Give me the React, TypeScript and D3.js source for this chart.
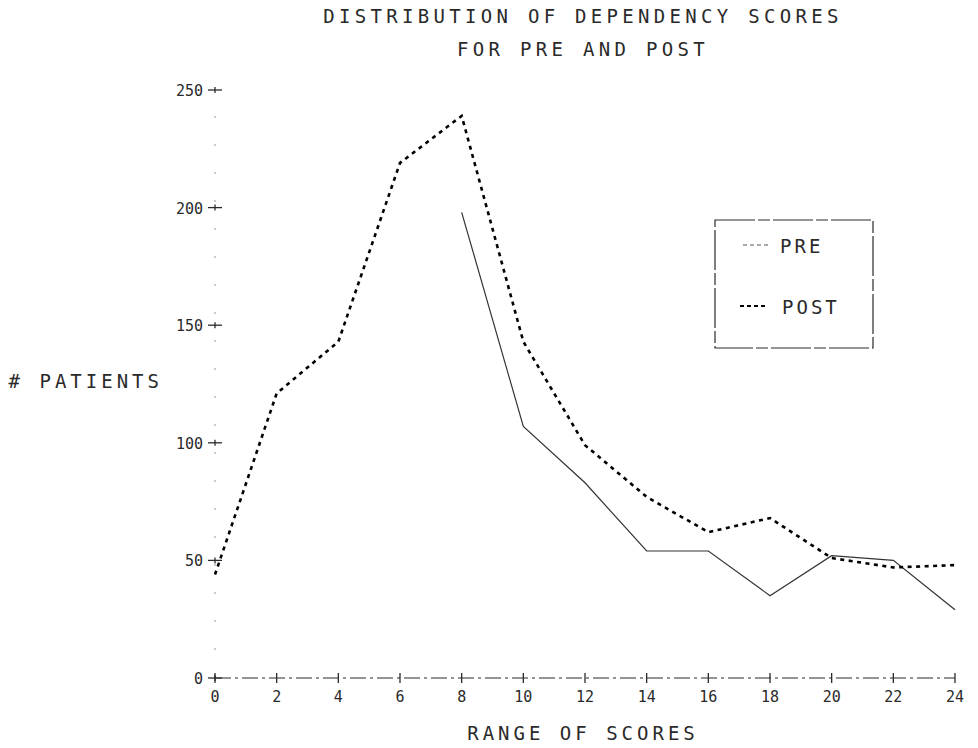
import React from "react";
import * as d3 from "d3";

const scores = [0, 2, 4, 6, 8, 10, 12, 14, 16, 18, 20, 22, 24];
const postValues = [44, 121, 143, 219, 239, 143, 99, 77, 62, 68, 51, 47, 48];
const preScores = [8, 10, 12, 14, 16, 18, 20, 22, 24];
const preValues = [198, 107, 83, 54, 54, 35, 52, 50, 29];
const yTicks = [0, 50, 100, 150, 200, 250];
const titleLines = ["DISTRIBUTION OF DEPENDENCY SCORES", "FOR PRE AND POST"];
const xLabel = "RANGE OF SCORES";
const yLabel = "# PATIENTS";
const legendItems = ["PRE", "POST"];

const W = 978;
const H = 748;
const FONT = "'DejaVu Sans Mono', 'Liberation Mono', monospace";
const INK = "#2a2a2a";

export default function App() {
  const x = d3.scaleLinear().domain([0, 24]).range([215, 955]);
  const y = d3.scaleLinear().domain([0, 250]).range([678, 90]);

  const post = scores.map((s, i) => [s, postValues[i]] as [number, number]);
  const pre = preScores.map((s, i) => [s, preValues[i]] as [number, number]);
  const line = d3
    .line<[number, number]>()
    .x((d) => x(d[0]))
    .y((d) => y(d[1]));

  const cx = 583;

  return (
    <svg
      width={W}
      height={H}
      viewBox={`0 0 ${W} ${H}`}
      style={{ position: "absolute", left: 0, top: 0, background: "#fff" }}
    >
      <rect x={0} y={0} width={W} height={H} fill="#fff" />
      {/* title */}
      <text
        x={cx}
        y={23}
        textAnchor="middle"
        fontFamily={FONT}
        fontSize={19}
        letterSpacing={4.3}
        fill={INK}
      >
        {titleLines[0]}
      </text>
      <text
        x={cx}
        y={56}
        textAnchor="middle"
        fontFamily={FONT}
        fontSize={19}
        letterSpacing={4.3}
        fill={INK}
      >
        {titleLines[1]}
      </text>

      {/* y axis faint */}
      <line
        x1={x(0)}
        x2={x(0)}
        y1={y(0)}
        y2={y(250)}
        stroke="#999"
        strokeWidth={1}
        strokeDasharray="2 26"
      />
      {/* x axis dash-dot */}
      <line
        x1={x(0)}
        x2={x(24)}
        y1={y(0)}
        y2={y(0)}
        stroke={INK}
        strokeWidth={1.2}
        strokeDasharray="16 4 3 4"
      />

      {/* y ticks */}
      {yTicks.map((t) => (
        <g key={`yt${t}`}>
          <line x1={x(0) - 7} x2={x(0) + 7} y1={y(t)} y2={y(t)} stroke={INK} strokeWidth={1.3} />
          <line x1={x(0)} x2={x(0)} y1={y(t) - 3} y2={y(t) + 3} stroke={INK} strokeWidth={1.3} />
          <text
            x={x(0) - 12}
            y={y(t) + 6}
            textAnchor="end"
            fontFamily={FONT}
            fontSize={15}
            fill={INK}
          >
            {t}
          </text>
        </g>
      ))}

      {/* x ticks */}
      {scores.map((s) => (
        <g key={`xt${s}`}>
          <line x1={x(s)} x2={x(s)} y1={y(0) - 5} y2={y(0) + 5} stroke={INK} strokeWidth={1.3} />
          <text
            x={x(s)}
            y={y(0) + 24}
            textAnchor="middle"
            fontFamily={FONT}
            fontSize={15}
            fill={INK}
          >
            {s}
          </text>
        </g>
      ))}

      {/* axis labels */}
      <text
        x={cx}
        y={740}
        textAnchor="middle"
        fontFamily={FONT}
        fontSize={19}
        letterSpacing={4}
        fill={INK}
      >
        {xLabel}
      </text>
      <text
        x={163}
        y={388}
        textAnchor="end"
        fontFamily={FONT}
        fontSize={19}
        letterSpacing={4}
        fill={INK}
      >
        {yLabel}
      </text>

      {/* series */}
      <path
        d={line(pre) || ""}
        fill="none"
        stroke="#333"
        strokeWidth={1.2}
      />
      <path
        d={line(post) || ""}
        fill="none"
        stroke="#000"
        strokeWidth={2.6}
        strokeDasharray="4 4.5"
      />

      {/* legend */}
      <rect
        x={715}
        y={220}
        width={158}
        height={128}
        fill="none"
        stroke={INK}
        strokeWidth={1.2}
        strokeDasharray="40 3 12 3"
      />
      <line x1={743} x2={768} y1={245} y2={245} stroke="#555" strokeWidth={1.2} strokeDasharray="4 3" />
      <text x={780} y={253} fontFamily={FONT} fontSize={19} letterSpacing={3} fill={INK}>
        {legendItems[0]}
      </text>
      <line x1={740} x2={768} y1={306} y2={306} stroke="#000" strokeWidth={2.2} strokeDasharray="4 3" />
      <text x={782} y={314} fontFamily={FONT} fontSize={19} letterSpacing={3} fill={INK}>
        {legendItems[1]}
      </text>
    </svg>
  );
}
